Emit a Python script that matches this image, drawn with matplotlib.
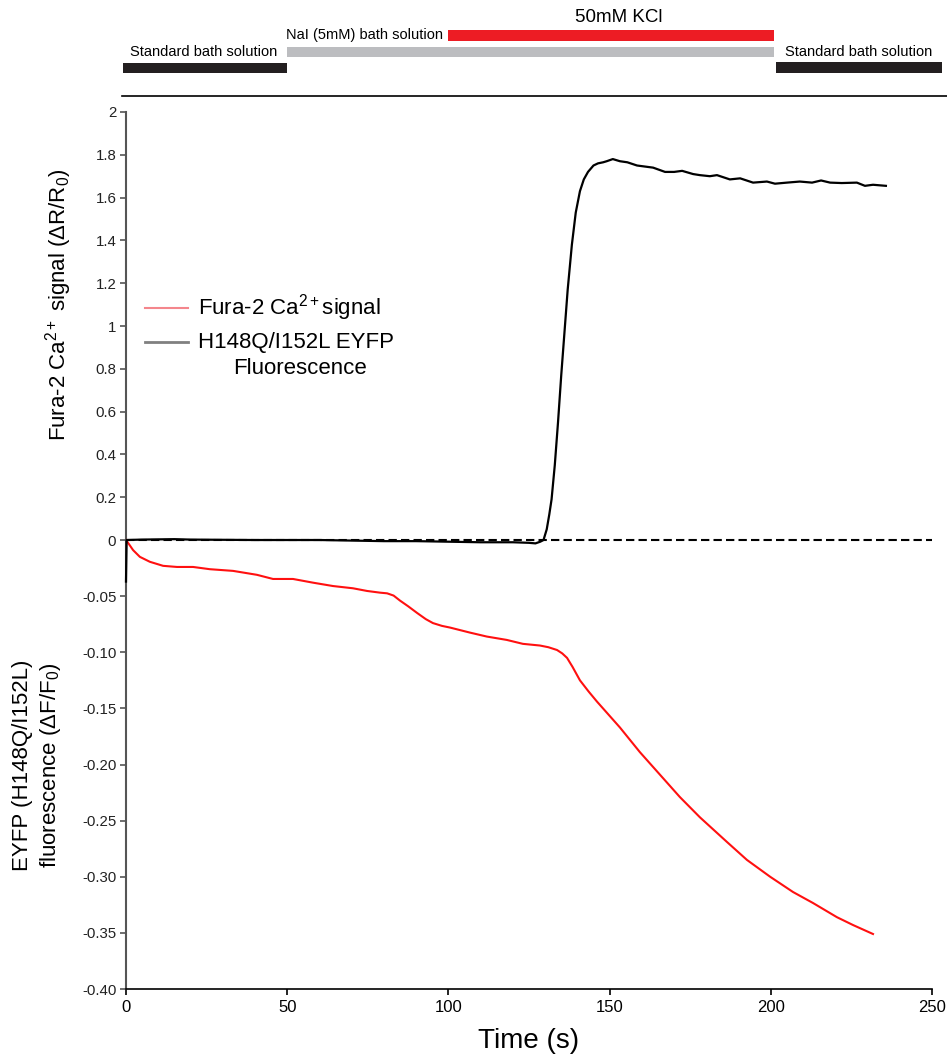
import numpy as np
import matplotlib
matplotlib.use('Agg')
import matplotlib.pyplot as plt
from matplotlib.ticker import FixedLocator, FixedFormatter

plt.rcParams['font.family'] = ['Liberation Sans', 'DejaVu Sans']
plt.rcParams['mathtext.fontset'] = 'custom'
plt.rcParams['mathtext.rm'] = 'Liberation Sans'
plt.rcParams['mathtext.it'] = 'Liberation Sans:italic'

# --- data ---
# Fura-2 ratio (upper scale, black); values below 0 fall on the stretched lower scale
fura_t = [0, 0.2, 5, 10, 15, 20, 30, 40, 50, 60, 70, 80, 90, 100, 110, 120, 125,
          127, 128.5, 129.5, 130.5, 131.3, 132, 133, 134, 135, 136, 137, 138.3,
          139.5, 140.8, 142, 143.3, 145, 146.4, 148, 149.1, 151, 153.2, 155.5,
          158.5, 161, 163.5, 167.2, 170, 172.5, 175.9, 178, 181.1, 183.3, 187.3,
          190.5, 194.5, 198.8, 201.3, 205, 209, 212.8, 215.6, 218.4, 222, 226.7,
          229.2, 231.7, 235.7]
fura_v = [-0.037, 0.0, 0.002, 0.003, 0.004, 0.002, 0.001, 0.0, 0.0, 0.0, -0.0005,
          -0.001, -0.001, -0.0015, -0.002, -0.002, -0.0025,
          -0.003, -0.0015, 0.0, 0.05, 0.12, 0.19, 0.35, 0.55, 0.77, 0.97, 1.17, 1.38,
          1.53, 1.63, 1.685, 1.72, 1.75, 1.76, 1.765, 1.77, 1.78, 1.77, 1.765,
          1.75, 1.745, 1.74, 1.72, 1.72, 1.725, 1.71, 1.705, 1.70, 1.705, 1.685,
          1.69, 1.67, 1.675, 1.665, 1.67, 1.675, 1.67, 1.68, 1.67, 1.668, 1.67,
          1.655, 1.66, 1.655]

# EYFP fluorescence (lower scale, red)
eyfp_t = [0, 1, 2.2, 4.3, 7.4, 11.5, 15.8, 20.8, 26, 33.2, 40.6, 45.6, 51.8, 58,
          64.2, 70.4, 74.8, 78.8, 81, 83, 85, 87.5, 90.3, 93, 95.2, 98, 100.5,
          106.7, 111.9, 118.1, 123.1, 128.4, 131, 133.7, 135.3, 136.8, 138.5,
          140.8, 143.5, 146.1, 153.2, 159.4, 165.6, 171.8, 178, 186.4, 192.6,
          199.8, 206.9, 213.1, 220.5, 225.5, 231.7]
eyfp_v = [0, -0.004, -0.009, -0.015, -0.0194, -0.023, -0.024, -0.024, -0.026,
          -0.0275, -0.031, -0.0347, -0.0347, -0.038, -0.041, -0.043, -0.0454,
          -0.0469, -0.0475, -0.0495, -0.054, -0.059, -0.065, -0.0705, -0.074,
          -0.0765, -0.078, -0.0825, -0.086, -0.089, -0.0925, -0.094, -0.0955,
          -0.098, -0.101, -0.105, -0.113, -0.125, -0.135, -0.144, -0.167,
          -0.189, -0.209, -0.229, -0.247, -0.269, -0.285, -0.300, -0.3136,
          -0.3234, -0.336, -0.343, -0.351]

upper_ticks = [0, 0.2, 0.4, 0.6, 0.8, 1, 1.2, 1.4, 1.6, 1.8, 2]
upper_labels = ['0', '0.2', '0.4', '0.6', '0.8', '1', '1.2', '1.4', '1.6', '1.8', '2']
lower_ticks = [-0.05, -0.10, -0.15, -0.20, -0.25, -0.30, -0.35, -0.40]
lower_labels = ['-0.05', '-0.10', '-0.15', '-0.20', '-0.25', '-0.30', '-0.35', '-0.40']

# solution periods (start, end) in seconds
std1 = (-1, 50)
nai = (50, 201)
kcl = (100, 201)
std2 = (201.5, 253)

K = 5.245  # negative half is stretched


def fwd(y):
    y = np.asarray(y, dtype=float)
    return np.where(y < 0, y * K, y)


def inv(y):
    y = np.asarray(y, dtype=float)
    return np.where(y < 0, y / K, y)


fig = plt.figure(figsize=(9.47, 10.63), dpi=100)
ax = fig.add_axes([0.13305, 0.06961, 0.85111, 0.82503])
ax.set_yscale('function', functions=(fwd, inv))
ax.set_xlim(0, 250)
ax.set_ylim(-0.40, 2)

ax.axhline(0, color='black', lw=1.5, ls=(0, (4, 2)), zorder=1)
ax.plot(eyfp_t, eyfp_v, color='#ff1010', lw=1.5, zorder=3)
ax.plot(fura_t, fura_v, color='black', lw=1.6, zorder=4, clip_on=False)

ax.yaxis.set_major_locator(FixedLocator(upper_ticks + lower_ticks))
ax.yaxis.set_major_formatter(FixedFormatter(upper_labels + lower_labels))
ax.set_xticks([0, 50, 100, 150, 200, 250])
ax.tick_params(axis='y', direction='out', length=4, width=1.2, colors='#555555',
               labelcolor='#222222', labelsize=10.8, pad=3)
ax.tick_params(axis='x', direction='out', length=4, width=1.2, labelsize=12, pad=4)
ax.spines['top'].set_visible(False)
ax.spines['right'].set_visible(False)
ax.spines['left'].set_color('#555555')
ax.spines['left'].set_linewidth(1.5)
ax.spines['bottom'].set_linewidth(1.2)
ax.set_xlabel('Time (s)', fontsize=20, labelpad=9)

# y labels for the two scales
fig.text(0.0623, 0.7131, r'Fura-2 Ca$^{2+}$ signal (ΔR/R$_0$)', rotation=90,
         ha='center', va='center', fontsize=16)
fig.text(0.0396, 0.2803, 'EYFP (H148Q/I152L)\nfluorescence (ΔF/F$_0$)', rotation=90,
         ha='center', va='center', fontsize=16, multialignment='center', linespacing=1.25)

# legend drawn by hand
ax.plot([5.9, 19.2], [1.084, 1.084], color='#f4868c', lw=1.5, clip_on=False)
ax.plot([5.9, 19.2], [0.925, 0.925], color='#808080', lw=2, clip_on=False)
ax.text(22.3, 1.084, r'Fura-2 Ca$^{2+}$signal', fontsize=16, va='center', ha='left')
ax.text(22.3, 0.925, 'H148Q/I152L EYFP', fontsize=16, va='center', ha='left')
ax.text(54, 0.80, 'Fluorescence', fontsize=16, va='center', ha='center')

# top bars showing solutions
axt = fig.add_axes([0.13305, 1 - 96 / 1063, 0.85111, 96 / 1063])
axt.set_xlim(0, 250)
axt.set_ylim(96, 0)
axt.axis('off')
axt.barh(68, std1[1] - std1[0], left=std1[0], height=10, color='#231f20', clip_on=False)
axt.barh(52, nai[1] - nai[0], left=nai[0], height=10, color='#bcbdc0', clip_on=False)
axt.barh(35.5, kcl[1] - kcl[0], left=kcl[0], height=11, color='#ed1c24', clip_on=False)
axt.barh(67.5, std2[1] - std2[0], left=std2[0], height=11, color='#231f20', clip_on=False)
axt.plot([-1.2, 254.6], [95.5, 95.5], color='black', lw=1.2, clip_on=False)
axt.text(46.8, 52.5, 'Standard bath solution', fontsize=10.5, ha='right', va='center')
axt.text(98.3, 35, 'NaI (5mM) bath solution', fontsize=10.5, ha='right', va='center')
axt.text(152.9, 18, '50mM KCl', fontsize=13.5, ha='center', va='center')
axt.text(204.4, 52.5, 'Standard bath solution', fontsize=10.5, ha='left', va='center')

fig.savefig('out.png', dpi=100)
